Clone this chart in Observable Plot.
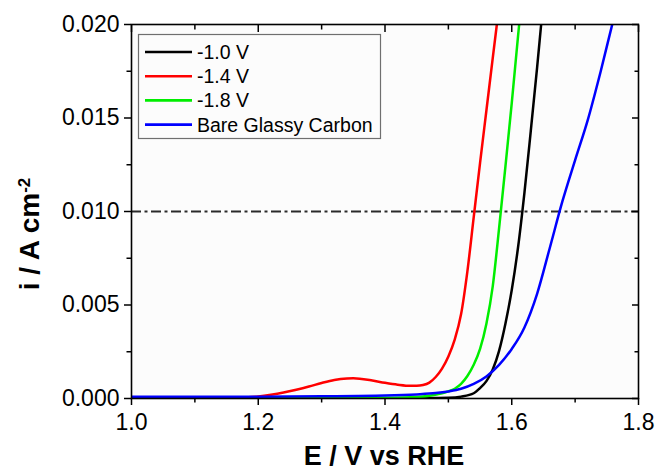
<!DOCTYPE html>
<html>
<head>
<meta charset="utf-8">
<script src="https://cdn.jsdelivr.net/npm/d3@7"></script>
<script src="https://cdn.jsdelivr.net/npm/@observablehq/plot@0.6"></script>
<style>
  html, body { margin: 0; padding: 0; background: #ffffff; }
  #chart { width: 655px; height: 472px; overflow: hidden; }
</style>
</head>
<body>
<div id="chart"></div>
<script>
// ---- data ----
const seriesNames = ["-1.0 V", "-1.4 V", "-1.8 V", "Bare Glassy Carbon"];
const seriesColors = ["#000000", "#ff0000", "#00ee00", "#0000ff"];

// -1.0 V (black)
const E_m10 = [1.00, 1.20, 1.40, 1.45, 1.50, 1.52, 1.54, 1.55, 1.56, 1.57, 1.58, 1.59, 1.60, 1.61, 1.62, 1.63, 1.64, 1.6464, 1.652];
const I_m10 = [0.00000, 0.00000, 0.00001, 0.00002, 0.00004, 0.00010, 0.00028, 0.00056, 0.00093, 0.00155, 0.00255, 0.00400, 0.00580, 0.00810, 0.01100, 0.01430, 0.01770, 0.02000, 0.02200];

// -1.4 V (red)
const E_m14 = [1.00, 1.15, 1.18, 1.20, 1.22, 1.24, 1.26, 1.28, 1.30, 1.32, 1.34, 1.35, 1.36, 1.38, 1.40, 1.42, 1.44, 1.45, 1.46, 1.47, 1.48, 1.49, 1.50, 1.51, 1.52, 1.53, 1.54, 1.55, 1.56, 1.57, 1.5765, 1.582];
const I_m14 = [0.00002, 0.00003, 0.00006, 0.00011, 0.00020, 0.00032, 0.00047, 0.00064, 0.00083, 0.00099, 0.00107, 0.00108, 0.00106, 0.00096, 0.00084, 0.00074, 0.00068, 0.00068, 0.00072, 0.00085, 0.00115, 0.00160, 0.00225, 0.00315, 0.00450, 0.00680, 0.00970, 0.01260, 0.01540, 0.01820, 0.02000, 0.02150];

// -1.8 V (green)
const E_m18 = [1.00, 1.20, 1.40, 1.45, 1.47, 1.49, 1.50, 1.51, 1.52, 1.53, 1.54, 1.55, 1.56, 1.57, 1.58, 1.59, 1.60, 1.61, 1.6117, 1.616];
const I_m18 = [0.00001, 0.00001, 0.00004, 0.00008, 0.00015, 0.00028, 0.00038, 0.00052, 0.00078, 0.00120, 0.00180, 0.00265, 0.00400, 0.00600, 0.00910, 0.01240, 0.01580, 0.01940, 0.02000, 0.02150];

// Bare Glassy Carbon (blue)
const E_gc = [1.00, 1.10, 1.20, 1.30, 1.40, 1.45, 1.48, 1.50, 1.52, 1.54, 1.56, 1.58, 1.60, 1.62, 1.64, 1.66, 1.68, 1.70, 1.72, 1.74, 1.76, 1.766];
const I_gc = [0.00010, 0.00010, 0.00010, 0.00012, 0.00016, 0.00022, 0.00029, 0.00038, 0.00052, 0.00078, 0.00118, 0.00180, 0.00265, 0.00380, 0.00560, 0.00805, 0.01055, 0.01275, 0.01490, 0.01745, 0.02020, 0.02100];

const seriesE = [E_m10, E_m14, E_m18, E_gc];
const seriesI = [I_m10, I_m14, I_m18, I_gc];

const refLevel = [0.010];

const xMajor = [1.0, 1.2, 1.4, 1.6, 1.8];
const xMinor = [1.1, 1.3, 1.5, 1.7];
const yMajor = [0.000, 0.005, 0.010, 0.015, 0.020];
const yMinor = [0.0025, 0.0075, 0.0125, 0.0175];

const xTitle = "E / V vs RHE";
const yTitleMain = "i / A cm";
const yTitleSup = "-2";

// ---- build table ----
const rows = seriesNames.flatMap((name, s) =>
  seriesE[s].map((e, k) => ({E: e, I: seriesI[s][k], name}))
);

const font = "'Liberation Sans', Arial, Helvetica, sans-serif";
const tickFont = 23;

const chart = Plot.plot({
  width: 655,
  height: 472,
  marginLeft: 131,
  marginRight: 17,
  marginTop: 24,
  marginBottom: 74,
  style: {fontFamily: font, background: "#ffffff", color: "#000"},
  x: {domain: [1.0, 1.8]},
  y: {domain: [0, 0.02]},
  color: {domain: seriesNames, range: seriesColors},
  marks: [
    Plot.frame({fill: "#fcfcfc", stroke: null}),
    Plot.ruleY(refLevel, {stroke: "#2a2a2a", strokeWidth: 2, strokeDasharray: "10,3.5,3,3.5"}),
    Plot.line(rows, {x: "E", y: "I", z: "name", stroke: "name", strokeWidth: 2.5, curve: "monotone-x", clip: true}),
    // bottom axis
    Plot.axisX({ticks: xMajor, tickSize: 7, tickPadding: 8, tickFormat: d => d.toFixed(1), fontSize: tickFont, label: null, strokeWidth: 1.5, color: "#000"}),
    Plot.axisX({ticks: xMinor, tickSize: 4.5, text: null, label: null, strokeWidth: 1.5}),
    // top axis (inward)
    Plot.axisX({anchor: "top", ticks: xMajor, tickSize: -7, text: null, label: null, strokeWidth: 1.5}),
    Plot.axisX({anchor: "top", ticks: xMinor, tickSize: -4.5, text: null, label: null, strokeWidth: 1.5}),
    // left axis
    Plot.axisY({ticks: yMajor, tickSize: 7, tickPadding: 5, tickFormat: d => d.toFixed(3), fontSize: tickFont, label: null, strokeWidth: 1.5}),
    Plot.axisY({ticks: yMinor, tickSize: 4.5, text: null, label: null, strokeWidth: 1.5}),
    // right axis (inward)
    Plot.axisY({anchor: "right", ticks: yMajor, tickSize: -7, text: null, label: null, strokeWidth: 1.5}),
    Plot.axisY({anchor: "right", ticks: yMinor, tickSize: -4.5, text: null, label: null, strokeWidth: 1.5}),
    Plot.frame({stroke: "#000", strokeWidth: 1.6})
  ]
});

document.getElementById("chart").appendChild(chart);

const svg = d3.select(chart);

// axis titles
svg.append("text")
  .attr("x", 384).attr("y", 465)
  .attr("text-anchor", "middle")
  .style("font-family", font).style("font-weight", "bold").style("font-size", "27px")
  .attr("fill", "#000")
  .text(xTitle);

const yt = svg.append("text")
  .attr("transform", "translate(39,234) rotate(-90)")
  .attr("text-anchor", "middle")
  .style("font-family", font).style("font-weight", "bold").style("font-size", "28px")
  .attr("fill", "#000");
yt.append("tspan").text(yTitleMain);
yt.append("tspan").attr("dy", "-0.55em").style("font-size", "17px").text(yTitleSup);

// legend
const lg = svg.append("g");
lg.append("rect")
  .attr("x", 138.5).attr("y", 34.5).attr("width", 242).attr("height", 104)
  .attr("fill", "#fcfcfc").attr("stroke", "#6f6f6f").attr("stroke-width", 1.2);
seriesNames.forEach((name, i) => {
  const y = 52 + i * 24.2;
  lg.append("line")
    .attr("x1", 145).attr("x2", 192).attr("y1", y).attr("y2", y)
    .attr("stroke", seriesColors[i]).attr("stroke-width", 2.6);
  lg.append("text")
    .attr("x", 197).attr("y", y).attr("dy", "0.36em")
    .attr("text-anchor", "start")
    .style("font-family", font).style("font-size", "19.5px")
    .attr("fill", "#000")
    .text(name);
});
</script>
</body>
</html>
